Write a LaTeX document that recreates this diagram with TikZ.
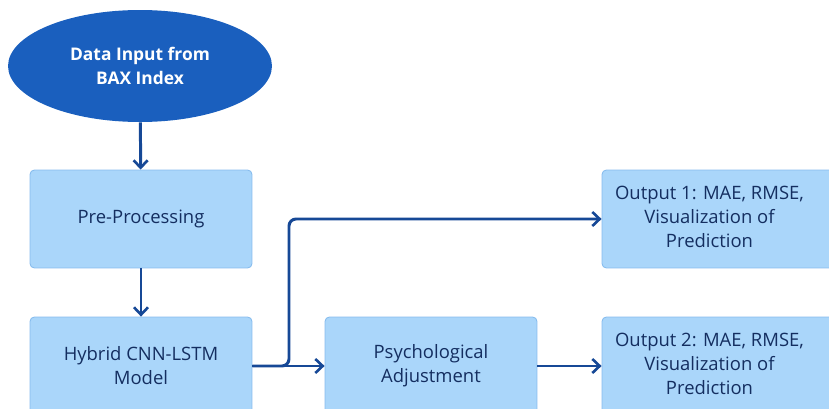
\documentclass[tikz,border=0pt]{standalone}
\usepackage{fontspec}
\setmainfont{Open Sans}
\usetikzlibrary{shapes.geometric,arrows.meta}
\definecolor{ellfill}{RGB}{26,95,190}
\definecolor{boxfill}{RGB}{170,214,250}
\definecolor{boxline}{RGB}{135,188,238}
\definecolor{arrowc}{RGB}{22,72,150}
\definecolor{textc}{RGB}{20,46,96}
\begin{document}
\begin{tikzpicture}[x=0.02cm,y=-0.02cm,
  every node/.style={font=\fontsize{10.5}{13.7}\selectfont},
  startnode/.style={ellipse,draw=none,fill=ellfill,text=white,inner sep=0pt,
    minimum width=5.28cm,minimum height=2.24cm,align=center,
    font=\fontsize{9.9}{13.4}\selectfont\bfseries},
  box/.style={draw=boxline,line width=0.5pt,fill=boxfill,rounded corners=2.5pt,
    text=textc,align=center,minimum width=4.44cm,minimum height=1.96cm,inner sep=0pt},
  conn/.style={draw=arrowc,line width=1.7pt,-{Straight Barb[length=4.2pt,width=8pt,line width=1.5pt]}}
]
\useasboundingbox (0,0) rectangle (829,409);
\clip (0,0) rectangle (829,409);
\node[startnode] (in) at (140,66) {Data Input from\\BAX Index};
\node[box] (pre) at (141,219) {Pre-Processing};
\node[box] (hyb) at (141,366) {Hybrid CNN-LSTM\\Model};
\node[box,minimum width=4.24cm] (psy) at (431,366) {Psychological\\Adjustment};
\node[box,minimum width=4.7cm] (o1) at (719.5,219) {\begin{tabular}{@{}c@{\hspace{0.4cm}}}Output 1: MAE, RMSE,\\Visualization of\\Prediction\end{tabular}};
\node[box,minimum width=4.7cm] (o2) at (719.5,366) {\begin{tabular}{@{}c@{\hspace{0.4cm}}}Output 2: MAE, RMSE,\\Visualization of\\Prediction\end{tabular}};
\draw[conn] (in) -- (pre);
\draw[conn] (pre) -- (hyb);
\draw[conn] (hyb) -- (psy);
\draw[conn,rounded corners=4pt] (hyb.east) -- (289,366) -- (289,219) -- (o1.west);
\draw[conn] (psy) -- (o2);
\end{tikzpicture}
\end{document}
